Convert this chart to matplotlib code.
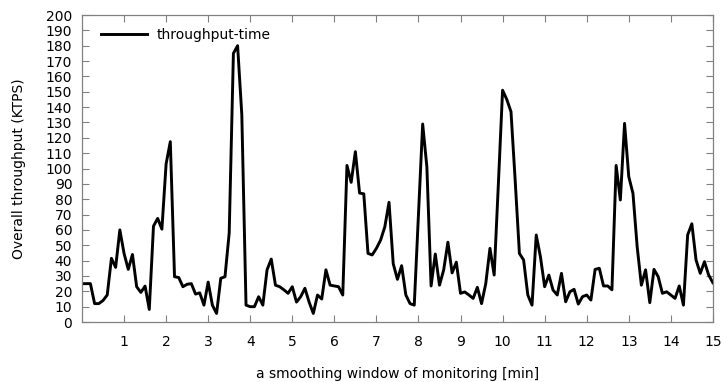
"""
Overall throughput over a smoothing window of monitoring.
"""

import numpy as np
import matplotlib
matplotlib.use("Agg")
import matplotlib.pyplot as plt

# throughput samples (KTPS), one every 0.1 min
throughput = [
    25, 25, 25, 12, 12, 14, 17.6, 41.5, 35.6, 60,
    44.7, 34.3, 44, 23, 19.3, 23.4, 8.2, 62.5, 67.5, 60.5,
    103, 117.5, 29.5, 29, 23, 24.6, 25, 18.2, 19, 11,
    26, 11, 5.6, 28.5, 29.5, 58, 175, 180, 135, 11,
    10, 10, 16.5, 11, 34, 41, 24, 23, 21, 18.7,
    23, 13, 16.5, 22, 13, 5.6, 17.6, 15, 34, 24,
    23.5, 23, 17.6, 102, 91, 111, 84, 83.5, 44.7, 43.7,
    48, 53.4, 62, 78, 38, 27.8, 36.7, 17.6, 12, 11,
    70, 129, 101, 23.5, 44.3, 24, 34, 52, 32, 39,
    18.7, 19.6, 17.6, 15.4, 22.6, 12, 25, 48, 30.6, 90,
    151, 145, 137, 92, 44.7, 40.4, 17.6, 11, 56.7, 42.5,
    23, 30.6, 20.8, 17.6, 31.7, 13.2, 19.7, 21.3, 11.7, 16.5,
    17.6, 14.3, 34.3, 35, 23.5, 23.5, 21, 102, 79.5, 129.4,
    94.7, 83.8, 49, 24, 34, 12.6, 34.3, 29.5, 18.7, 19.7,
    17.6, 15.4, 23.5, 11, 56.7, 64, 40.4, 31.7, 39.3, 30.6,
    25.6,
]
x_ticks = list(range(1, 16))
y_ticks = list(range(0, 201, 10))


def main():
    minutes = np.arange(len(throughput)) * 0.1

    fig = plt.figure(figsize=(7.23, 3.82), dpi=100)
    ax = fig.add_axes([0.1134, 0.157, 0.8726, 0.8037])

    ax.plot(minutes, throughput, color="black", linewidth=2.1,
            label="throughput-time")

    ax.set_xlim(0, 15)
    ax.set_ylim(0, 200)
    ax.set_xticks(x_ticks)
    ax.set_yticks(y_ticks)
    ax.tick_params(direction="in", length=5, width=0.8, color="#808080",
                   top=True, right=True, labelsize=10)
    ax.tick_params(axis="x", pad=9)
    ax.tick_params(axis="y", pad=7)
    for side in ax.spines.values():
        side.set_color("#808080")
        side.set_linewidth(0.9)

    ax.set_xlabel("a smoothing window of monitoring [min]", fontsize=10, labelpad=13)
    ax.set_ylabel("Overall throughput (KTPS)", fontsize=10, labelpad=14)

    ax.legend(loc="upper left", frameon=False, fontsize=10, handlelength=3.3,
              handletextpad=0.7, borderaxespad=0.5, bbox_to_anchor=(0.01, 1.0))

    fig.savefig("out.png", dpi=100)


if __name__ == "__main__":
    main()
